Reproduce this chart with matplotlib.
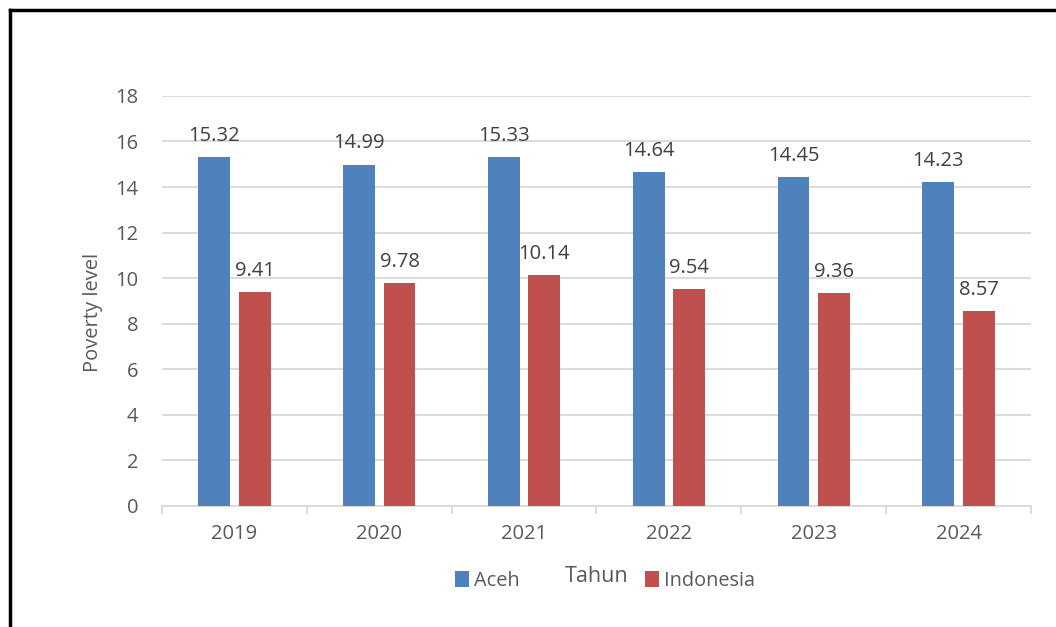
import matplotlib.pyplot as plt
from matplotlib.lines import Line2D
import numpy as np

# data
years = ["2019", "2020", "2021", "2022", "2023", "2024"]
aceh = [15.32, 14.99, 15.33, 14.64, 14.45, 14.23]
indonesia = [9.41, 9.78, 10.14, 9.54, 9.36, 8.57]

plt.rcParams['font.family'] = ['Open Sans', 'DejaVu Sans']

fig = plt.figure(figsize=(10.56, 6.27), dpi=100)
ax = fig.add_axes([0.1534, 0.193, 0.8229, 0.654])

x = np.arange(len(years))
w = 0.22
b1 = ax.bar(x - 0.14, aceh, w, color='#4F81BD', label='Aceh', zorder=3)
b2 = ax.bar(x + 0.14, indonesia, w, color='#C0504D', label='Indonesia', zorder=3)

for bars in (b1, b2):
    for r in bars:
        ax.annotate(f"{r.get_height():.2f}", (r.get_x() + r.get_width() / 2, r.get_height()),
                    xytext=(0, 8), textcoords='offset points', ha='center', va='bottom',
                    fontsize=14.5, color='#404040')

ax.set_xlim(-0.5, len(years) - 0.5)
ax.set_ylim(0, 18)
ax.set_yticks(range(0, 19, 2))
ax.set_xticks(x)
ax.set_xticklabels(years)
ax.set_xticks(np.arange(-0.5, len(years), 1), minor=True)
ax.tick_params(axis='x', which='major', length=0, pad=13, labelsize=14.5, labelcolor='#595959')
ax.tick_params(axis='x', which='minor', length=6, width=1.3, color='#d9d9d9')
ax.tick_params(axis='y', length=0, pad=17, labelsize=14.5, labelcolor='#595959')
ax.grid(axis='y', color='#d9d9d9', lw=1.3, zorder=0)
for s in ('top', 'right', 'left'):
    ax.spines[s].set_visible(False)
ax.spines['bottom'].set_color('#d9d9d9')
ax.spines['bottom'].set_linewidth(1.3)
ax.set_axisbelow(True)

ax.set_ylabel("Poverty level", fontsize=14.5, color='#595959')
ax.yaxis.set_label_coords((93 - 162) / 869, (506 - 312) / 410, transform=ax.transAxes)
ax.yaxis.label.set_va('center')
ax.set_xlabel("Tahun", fontsize=15.5, color='#595959')
ax.xaxis.set_label_coords((597 - 162) / 869, (506 - 577) / 410, transform=ax.transAxes)
ax.xaxis.label.set_va('center')

fig.legend(loc='center', bbox_to_anchor=(605 / 1056, 1 - 581 / 627), ncol=2, frameon=False,
           fontsize=14.3, handlelength=0.7, handleheight=0.85, handletextpad=0.25,
           columnspacing=6.3, labelcolor='#595959', borderpad=0, borderaxespad=0)

# outer frame
fig.add_artist(Line2D([0.0095, 0.0095], [0.0, 0.984], color='black', lw=2.5, transform=fig.transFigure))
fig.add_artist(Line2D([0.0095, 1.0], [0.984, 0.984], color='black', lw=2.5, transform=fig.transFigure))

fig.savefig("out.png", dpi=100)
